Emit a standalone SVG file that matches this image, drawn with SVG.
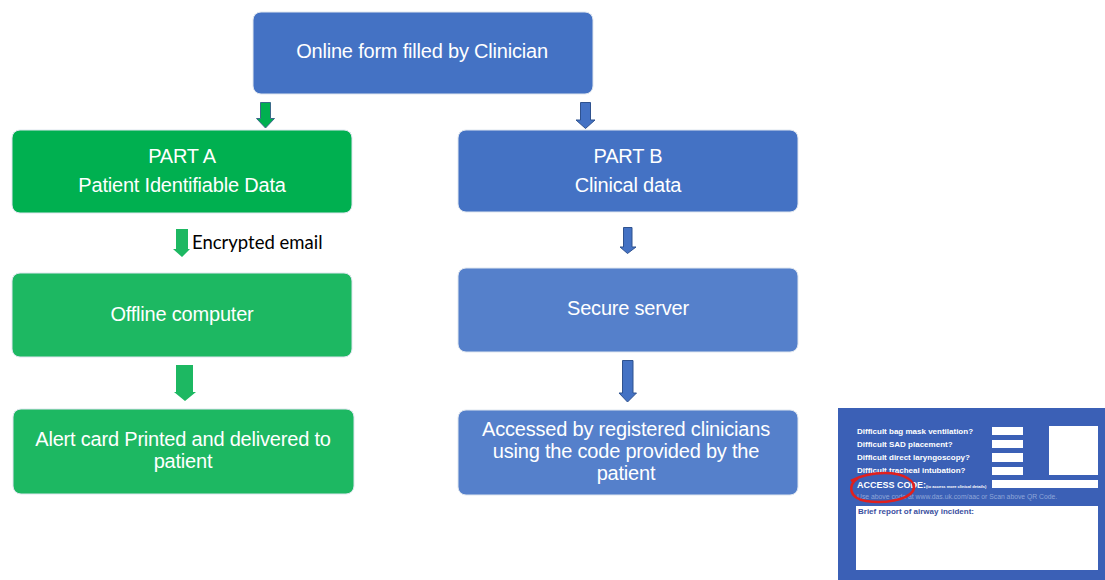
<svg xmlns="http://www.w3.org/2000/svg" width="1105" height="580" viewBox="0 0 1105 580">
  <style>
    .box { stroke: #dfe6ef; stroke-width: 1; }
    .blue { fill: #4472C4; }
    .blue2 { fill: #5580CB; }
    .green { fill: #00B050; }
    .green2 { fill: #1DB862; }
    .lbl { font-family: "Liberation Sans", Arial, sans-serif; font-size: 20px; fill: #ffffff; text-anchor: middle; letter-spacing: -0.2px; }
    .arrG { fill: #00B050; stroke: #3B6A8A; stroke-width: 1; }
    .arrG2 { fill: #1DB862; stroke: none; }
    .arrB { fill: #4472C4; stroke: #2F528F; stroke-width: 1; }
    .note { font-family: Lato, "Open Sans", sans-serif; font-size: 18.5px; fill: #000000; }
    .card { font-family: "Liberation Sans", Arial, sans-serif; font-weight: bold; font-size: 8px; fill: #ffffff; }
  </style>

  <rect width="1105" height="580" fill="#ffffff"/>

  <!-- nodes -->
  <g id="online-form">
    <rect class="box blue" x="253" y="12" width="340" height="82" rx="8"/>
    <text class="lbl" x="422" y="58">Online form filled by Clinician</text>
  </g>

  <g id="part-a">
    <rect class="box green" x="12" y="130" width="340" height="83" rx="8"/>
    <text class="lbl" x="182" y="163">PART A</text>
    <text class="lbl" x="182" y="192">Patient Identifiable Data</text>
  </g>

  <g id="part-b">
    <rect class="box blue" x="458" y="130" width="340" height="82" rx="8"/>
    <text class="lbl" x="628" y="163">PART B</text>
    <text class="lbl" x="628" y="192">Clinical data</text>
  </g>

  <g id="offline-computer">
    <rect class="box green2" x="12" y="273" width="340" height="84" rx="8"/>
    <text class="lbl" x="182" y="321">Offline computer</text>
  </g>

  <g id="secure-server">
    <rect class="box blue2" x="458" y="268" width="340" height="84" rx="8"/>
    <text class="lbl" x="628" y="315">Secure server</text>
  </g>

  <g id="alert-card">
    <rect class="box green2" x="13" y="409" width="341" height="85" rx="8"/>
    <text class="lbl" x="183" y="446">Alert card Printed and delivered to</text>
    <text class="lbl" x="183" y="468">patient</text>
  </g>

  <g id="accessed">
    <rect class="box blue2" x="458" y="410" width="340" height="85" rx="8"/>
    <text class="lbl" x="626" y="436">Accessed by registered clinicians</text>
    <text class="lbl" x="626" y="458">using the code provided by the</text>
    <text class="lbl" x="626" y="480">patient</text>
  </g>

  <!-- connectors: block arrows -->
  <g id="connectors">
    <path class="arrG" d="M260.5,102.5 H270.5 V118.5 H274.5 L265.5,128 L256.5,118.5 H260.5 Z"/>
    <path class="arrB" d="M580.5,102.5 H590.5 V120 H595 L585.5,128.5 L576,120 H580.5 Z"/>
    <path class="arrG2" d="M176,229 H188 V249 H190 L182,257 L173,249 H176 Z"/>
    <path class="arrB" d="M623.5,227.5 H632 V247 H636 L627.5,253.5 L620,247 H623.5 Z"/>
    <path class="arrG2" d="M176,365 H193 V392 H196 L185,401 L174,392 H176 Z"/>
    <path class="arrB" d="M622.5,360.5 H633 V393 H636.5 L627.5,402 L619,393 H622.5 Z"/>
  </g>
  <text class="note" x="192" y="249">Encrypted email</text>

  <!-- alert card picture -->
  <g id="card-picture">
    <rect x="838" y="408" width="267" height="172" fill="#3B60B6"/>
    <text class="card" x="857" y="434">Difficult bag mask ventilation?</text>
    <text class="card" x="857" y="447">Difficult SAD placement?</text>
    <text class="card" x="857" y="460">Difficult direct laryngoscopy?</text>
    <text class="card" x="857" y="473">Difficult tracheal intubation?</text>
    <rect x="992" y="427" width="31" height="8" fill="#ffffff"/>
    <rect x="992" y="440" width="31" height="8" fill="#ffffff"/>
    <rect x="992" y="453" width="31" height="9" fill="#ffffff"/>
    <rect x="992" y="467" width="31" height="8" fill="#ffffff"/>
    <rect x="1049" y="426" width="49" height="49" fill="#ffffff"/>
    <text class="card" x="857" y="488" style="font-size:9px">ACCESS CODE:<tspan style="font-size:4px">(to access more clinical details)</tspan></text>
    <rect x="992" y="480" width="106" height="8" fill="#ffffff"/>
    <text x="857" y="499" style="font-family:'Liberation Sans',Arial,sans-serif;font-size:6.8px;fill:#8FA6D8">Use above code at www.das.uk.com/aac or Scan above QR Code.</text>
    <rect x="856" y="506" width="242" height="64" fill="#ffffff"/>
    <text x="858" y="514" style="font-family:'Liberation Sans',Arial,sans-serif;font-weight:bold;font-size:8px;fill:#3B4FA0">Brief report of airway incident:</text>
    <path d="M858,478 C848,485 848,498 866,501 C884,504 907,500 913,491 C918,481 903,473 885,473 C872,473 860,476 851,481" fill="none" stroke="#E0201E" stroke-width="2.6"/>
  </g>
</svg>
